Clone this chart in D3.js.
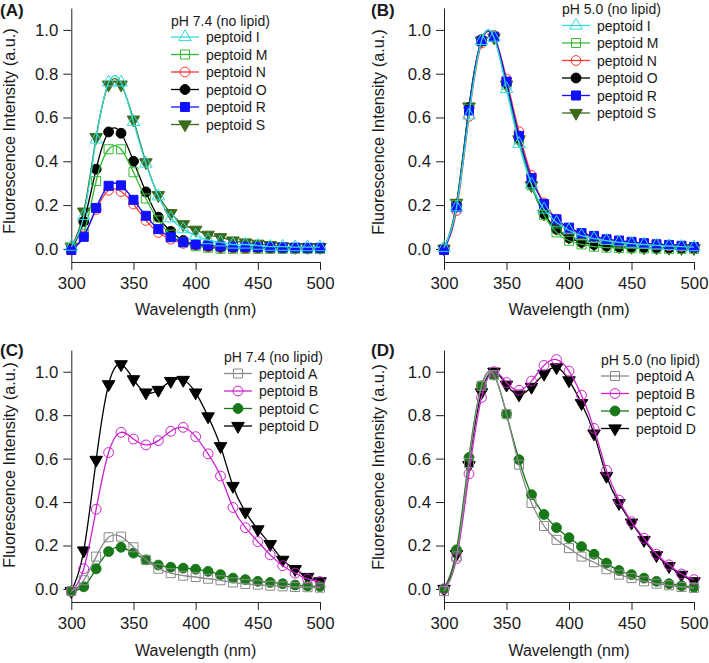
<!DOCTYPE html>
<html><head><meta charset="utf-8">
<script src="https://cdn.jsdelivr.net/npm/d3@7"></script>
<style>
body{margin:0;background:#fff}
svg{display:block}
text{font-family:"Liberation Sans",Arial,Helvetica,sans-serif;fill:#1a1a1a}
</style>
</head><body>
<svg id="chart" width="709" height="663"></svg>
<script>
// ---------- data ----------
const wavelength = [300,310,320,330,340,350,360,370,380,390,400,410,420,430,440,450,460,470,480,490,500];
const xTicks = [300,350,400,450,500];
const yTicks = [0.0,0.2,0.4,0.6,0.8,1.0];

// Panel A: pH 7.4 (no lipid)
const aI = [0.01,0.15,0.50,0.76,0.76,0.58,0.39,0.24,0.14,0.09,0.06,0.04,0.03,0.02,0.02,0.015,0.01,0.01,0.008,0.008,0.008];
const aM = [0.005,0.07,0.31,0.455,0.455,0.35,0.23,0.13,0.065,0.03,0.012,0.005,0.0,0.0,0.0,0.0,0.0,0.0,0.0,0.0,0.0];
const aN = [-0.005,0.06,0.18,0.268,0.262,0.205,0.13,0.075,0.044,0.025,0.015,0.01,0.007,0.005,0.004,0.003,0.003,0.002,0.002,0.002,0.002];
const aO = [0.0,0.125,0.364,0.534,0.528,0.40,0.26,0.145,0.08,0.038,0.02,0.01,0.006,0.004,0.003,0.003,0.002,0.002,0.002,0.002,0.002];
const aR = [-0.005,0.055,0.187,0.288,0.29,0.224,0.151,0.09,0.053,0.03,0.021,0.016,0.012,0.01,0.009,0.008,0.007,0.006,0.006,0.005,0.005];
const aS = [0.01,0.17,0.51,0.75,0.75,0.59,0.395,0.245,0.163,0.112,0.087,0.064,0.053,0.038,0.029,0.023,0.017,0.011,0.008,0.008,0.008];

// Panel B: pH 5.0 (no lipid)
const bI = [0.005,0.19,0.61,0.95,0.965,0.73,0.48,0.295,0.18,0.12,0.085,0.06,0.047,0.037,0.03,0.024,0.02,0.016,0.013,0.01,0.008];
const bM = [0.0,0.2,0.64,0.95,0.97,0.75,0.50,0.29,0.155,0.075,0.037,0.02,0.01,0.006,0.004,0.003,0.002,0.001,0.0,0.0,0.0];
const bN = [0.0,0.175,0.605,0.94,0.975,0.775,0.535,0.335,0.21,0.135,0.092,0.068,0.052,0.042,0.035,0.028,0.023,0.018,0.014,0.01,0.007];
const bO = [0.0,0.2,0.645,0.955,0.97,0.755,0.505,0.295,0.16,0.09,0.05,0.03,0.02,0.013,0.009,0.007,0.005,0.004,0.003,0.002,0.002];
const bR = [-0.005,0.19,0.632,0.95,0.968,0.764,0.516,0.323,0.205,0.135,0.097,0.072,0.059,0.044,0.038,0.032,0.026,0.021,0.018,0.014,0.008];
const bS = [0.0,0.21,0.65,0.95,0.965,0.75,0.50,0.29,0.16,0.095,0.055,0.033,0.022,0.015,0.011,0.008,0.006,0.005,0.004,0.003,0.003];

// Panel C: pH 7.4 (no lipid)
const cA = [-0.01,0.04,0.149,0.238,0.241,0.192,0.134,0.093,0.073,0.061,0.055,0.047,0.04,0.03,0.023,0.02,0.015,0.012,0.009,0.008,0.006];
const cB = [-0.01,0.093,0.367,0.628,0.721,0.69,0.663,0.683,0.726,0.744,0.701,0.622,0.52,0.375,0.282,0.218,0.157,0.107,0.073,0.046,0.034];
const cC = [-0.01,0.01,0.093,0.172,0.192,0.165,0.134,0.11,0.1,0.096,0.091,0.081,0.066,0.05,0.043,0.035,0.03,0.024,0.018,0.014,0.011];
const cD = [-0.01,0.177,0.594,0.942,1.034,0.965,0.904,0.916,0.957,0.962,0.904,0.794,0.657,0.474,0.355,0.274,0.206,0.134,0.091,0.055,0.035];

// Panel D: pH 5.0 (no lipid)
const dA = [-0.01,0.15,0.58,0.935,0.985,0.805,0.572,0.396,0.29,0.226,0.188,0.149,0.123,0.091,0.066,0.05,0.035,0.024,0.017,0.009,0.005];
const dB = [0.0,0.14,0.53,0.881,1.0,0.95,0.915,0.957,1.029,1.056,1.003,0.892,0.739,0.546,0.409,0.309,0.233,0.16,0.111,0.069,0.043];
const dC = [0.0,0.18,0.605,0.935,0.985,0.805,0.595,0.434,0.343,0.282,0.236,0.195,0.16,0.119,0.085,0.066,0.05,0.035,0.024,0.015,0.008];
const dD = [0.0,0.16,0.57,0.905,1.0,0.94,0.895,0.93,0.99,1.02,0.96,0.855,0.715,0.52,0.395,0.305,0.225,0.155,0.105,0.065,0.035];

// ---------- styles ----------
const sty = {
  I:{name:"peptoid I", color:"#33d9d9", shape:"triUp",  filled:false},
  M:{name:"peptoid M", color:"#33bb33", shape:"square", filled:false},
  N:{name:"peptoid N", color:"#ff3333", shape:"circle", filled:false},
  O:{name:"peptoid O", color:"#000000", shape:"circle", filled:true},
  R:{name:"peptoid R", color:"#1111ff", shape:"square", filled:true},
  S:{name:"peptoid S", color:"#3a6a1a", shape:"triDown",filled:true},
  A:{name:"peptoid A", color:"#8a8a8a", shape:"square", filled:false},
  B:{name:"peptoid B", color:"#cc22cc", shape:"circle", filled:false},
  C:{name:"peptoid C", color:"#187818", shape:"circle", filled:true},
  D:{name:"peptoid D", color:"#000000", shape:"triDown",filled:true}
};

const panels = [
  {label:"(A)", lab:[0,16], title:"pH 7.4 (no lipid)", x0:71.3, x1:320, yTop:8, yBot:262,
   legend:[171,20.5], yTitle:[14.5,131], xTitleY:314.5,
   series:[["I",aI],["M",aM],["N",aN],["O",aO],["R",aR],["S",aS]], order:["S","O","N","M","R","I"]},
  {label:"(B)", lab:[371,16], title:"pH 5.0 (no lipid)", x0:444, x1:694, yTop:8, yBot:262,
   legend:[562,9], yTitle:[383.6,132], xTitleY:314.5,
   series:[["I",bI],["M",bM],["N",bN],["O",bO],["R",bR],["S",bS]], order:["S","O","N","M","R","I"]},
  {label:"(C)", lab:[0,356], title:"pH 7.4 (no lipid)", x0:71.3, x1:320, yTop:350, yBot:602,
   legend:[224,357], yTitle:[14.5,465], xTitleY:656,
   series:[["A",cA],["B",cB],["C",cC],["D",cD]], order:["D","C","B","A"]},
  {label:"(D)", lab:[371,356], title:"pH 5.0 (no lipid)", x0:444, x1:694, yTop:350, yBot:602,
   legend:[601,359.5], yTitle:[383.6,467], xTitleY:656,
   series:[["A",dA],["B",dB],["C",dC],["D",dD]], order:["D","C","B","A"]}
];

const svg = d3.select("#chart");

function marker(g, shape, cx, cy, color, filled){
  let path;
  if(shape==="circle") path = d3.symbol(d3.symbolCircle, 76)();
  else if(shape==="square") path = d3.symbol(d3.symbolSquare, 81)();
  else path = d3.symbol(d3.symbolTriangle, 68)();
  return g.append("path").attr("d", path)
    .attr("transform", `translate(${cx},${cy})` + (shape==="triDown" ? " rotate(180)" : ""))
    .attr("stroke", color).attr("stroke-width", 1)
    .attr("fill", filled ? color : "none");
}

panels.forEach(P => {
  const g = svg.append("g");
  const x = d3.scaleLinear().domain([300,500]).range([P.x0, P.x1]);
  const y = d3.scaleLinear().domain([-0.06,1.1]).range([P.yBot, P.yTop]);

  // axes
  const xa = g.append("g").attr("transform", `translate(0,${P.yBot})`)
    .call(d3.axisBottom(x).tickValues(xTicks).tickSize(8).tickSizeOuter(0).tickPadding(7.5).tickFormat(d3.format("d")));
  const ya = g.append("g").attr("transform", `translate(${P.x0},0)`)
    .call(d3.axisLeft(y).tickValues(yTicks).tickSize(8).tickSizeOuter(0).tickPadding(5).tickFormat(d3.format(".1f")));
  [xa, ya].forEach(a => {
    a.selectAll("path,line").attr("stroke", "#222").attr("stroke-width", 1);
    a.selectAll("text").attr("font-size", 16.8).attr("fill", "#1a1a1a")
      .attr("font-family", '"Liberation Sans",Arial,sans-serif');
  });

  // titles
  g.append("text").attr("x", (P.x0+P.x1)/2).attr("y", P.xTitleY)
    .attr("text-anchor","middle").attr("font-size",16).text("Wavelength (nm)");
  g.append("text").attr("transform", `translate(${P.yTitle[0]},${P.yTitle[1]}) rotate(-90)`)
    .attr("text-anchor","middle").attr("font-size",16.3).text("Fluorescence Intensity (a.u.)");
  g.append("text").attr("x", P.lab[0]).attr("y", P.lab[1])
    .attr("font-size",17).attr("font-weight","bold").text(P.label);

  // series
  const line = d3.line().x((d,i) => x(wavelength[i])).y(d => y(d)).curve(d3.curveNatural);
  const byKey = Object.fromEntries(P.series);
  P.order.forEach(k => {
    const s = sty[k], vals = byKey[k];
    const sg = g.append("g");
    sg.append("path").datum(vals).attr("d", line)
      .attr("fill","none").attr("stroke", s.color).attr("stroke-width", 1.3);
    vals.forEach((v,i) => marker(sg, s.shape, x(wavelength[i]), y(v), s.color, s.filled));
  });

  // legend
  const [lx, ly] = P.legend;
  const lg = g.append("g");
  lg.append("text").attr("x", lx).attr("y", ly+5).attr("font-size",14).text(P.title);
  P.series.forEach(([k], i) => {
    const s = sty[k];
    const cy = ly + 16.5 + i*17.5;
    lg.append("line").attr("x1", lx).attr("x2", lx+28).attr("y1", cy).attr("y2", cy)
      .attr("stroke", s.color).attr("stroke-width", 1.3);
    marker(lg, s.shape, lx+14, cy, s.color, s.filled);
    lg.append("text").attr("x", lx+35).attr("y", cy+5).attr("font-size",14).text(s.name);
  });
});
</script>
</body></html>
